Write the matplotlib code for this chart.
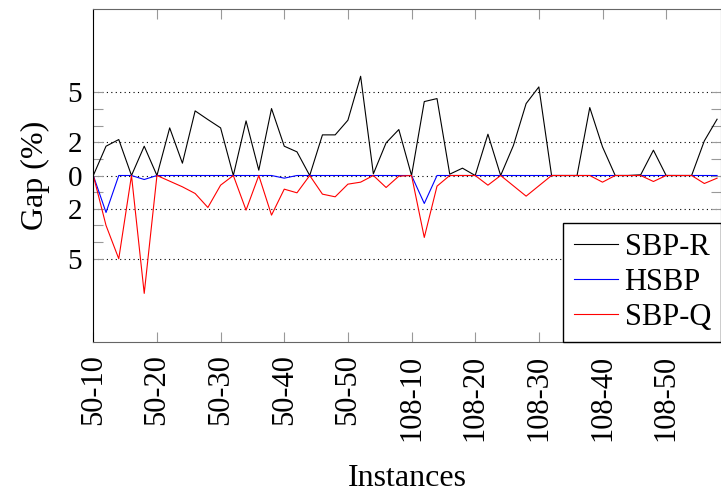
import numpy as np
import matplotlib.pyplot as plt

plt.rcParams["font.family"] = ["Liberation Serif", "DejaVu Serif"]

# gap (%) per instance; negative = below the zero line
sbp_r = [0, 1.76, 2.16, 0, 1.76, 0, 2.86, 0.74, 3.88, 3.36,
         2.86, 0, 3.28, 0.32, 4.02, 1.76, 1.42, 0, 2.44, 2.44,
         3.32, 5.96, 0.1, 1.96, 2.76, 0, 4.44, 4.62, 0.08, 0.44,
         0, 2.48, 0, 1.8, 4.32, 5.32, 0, 0, 0, 4.08,
         1.72, 0, 0, 0.04, 1.52, 0, 0, 0, 2.08, 3.38]
hsbp = [0, -2.22, 0, 0, -0.24, 0, 0, 0, 0, 0,
        0, 0, 0, 0, 0, -0.16, 0, 0, 0, 0,
        0, 0, 0, 0, 0, 0, -1.68, 0, 0, 0,
        0, 0, 0, 0, 0, 0, 0, 0, 0, 0,
        0, 0, 0, 0, 0, 0, 0, 0, 0, 0]
sbp_q = [0, -3.0, -5.0, 0, -7.08, 0, -0.34, -0.68, -1.08, -1.92,
         -0.58, 0, -2.08, 0, -2.38, -0.82, -1.04, 0, -1.12, -1.28,
         -0.52, -0.4, 0, -0.72, -0.04, 0, -3.72, -0.64, 0, 0,
         0, -0.58, 0, -0.62, -1.24, -0.62, 0, 0, 0, 0,
         -0.4, 0, 0, 0, -0.36, 0, 0, 0, -0.48, -0.16]
tick_labels = ["50-10", "50-20", "50-30", "50-40", "50-50",
               "108-10", "108-20", "108-30", "108-40", "108-50"]
y_major = [-5, -2, 0, 2, 5]
y_minor = [-4, -3, -1, 1, 3, 4]

x = np.arange(len(sbp_r))

fig = plt.figure(figsize=(7.21, 4.93), dpi=100)
ax = fig.add_axes([93.3 / 721, 1 - 342 / 493, 1 - 93.3 / 721, 333 / 493])

ax.plot(x, sbp_r, color="black", lw=0.8, label="SBP-R")
ax.plot(x, hsbp, color="blue", lw=0.8, label="HSBP")
ax.plot(x, sbp_q, color="red", lw=0.8, label="SBP-Q")

ax.set_xlim(0, 627.7 / 12.73)
ax.set_ylim(-10, 10)

ax.set_xticks(np.arange(0, len(tick_labels) * 5, 5))
ax.set_xticklabels(tick_labels, rotation=90, fontsize=22)
ax.set_yticks(y_major)
ax.set_yticklabels([str(abs(v)) for v in y_major], fontsize=21)
ax.set_yticks(y_minor, minor=True)
ax.tick_params(which="both", direction="in", top=True, right=True,
               length=7, width=0.8, color="0.6")
ax.tick_params(axis="x", pad=9)
ax.tick_params(axis="y", pad=8)
ax.grid(axis="y", which="major", color="black", lw=0.8,
        linestyle=(0, (1, 3)))

for side in ["top", "bottom", "right"]:
    ax.spines[side].set_color("0.4")
ax.spines["left"].set_color("black")

ax.set_xlabel("Instances", fontsize=23, labelpad=17)
ax.set_ylabel("Gap (%)", fontsize=23, labelpad=13)

leg = ax.legend(loc="lower right", borderaxespad=0, fontsize=22,
                frameon=True, fancybox=False, edgecolor="black",
                framealpha=1.0, handlelength=1.45, handletextpad=0.22,
                labelspacing=0.2, borderpad=0.33)
leg.get_frame().set_linewidth(1.0)

fig.savefig("out.png", dpi=100)
